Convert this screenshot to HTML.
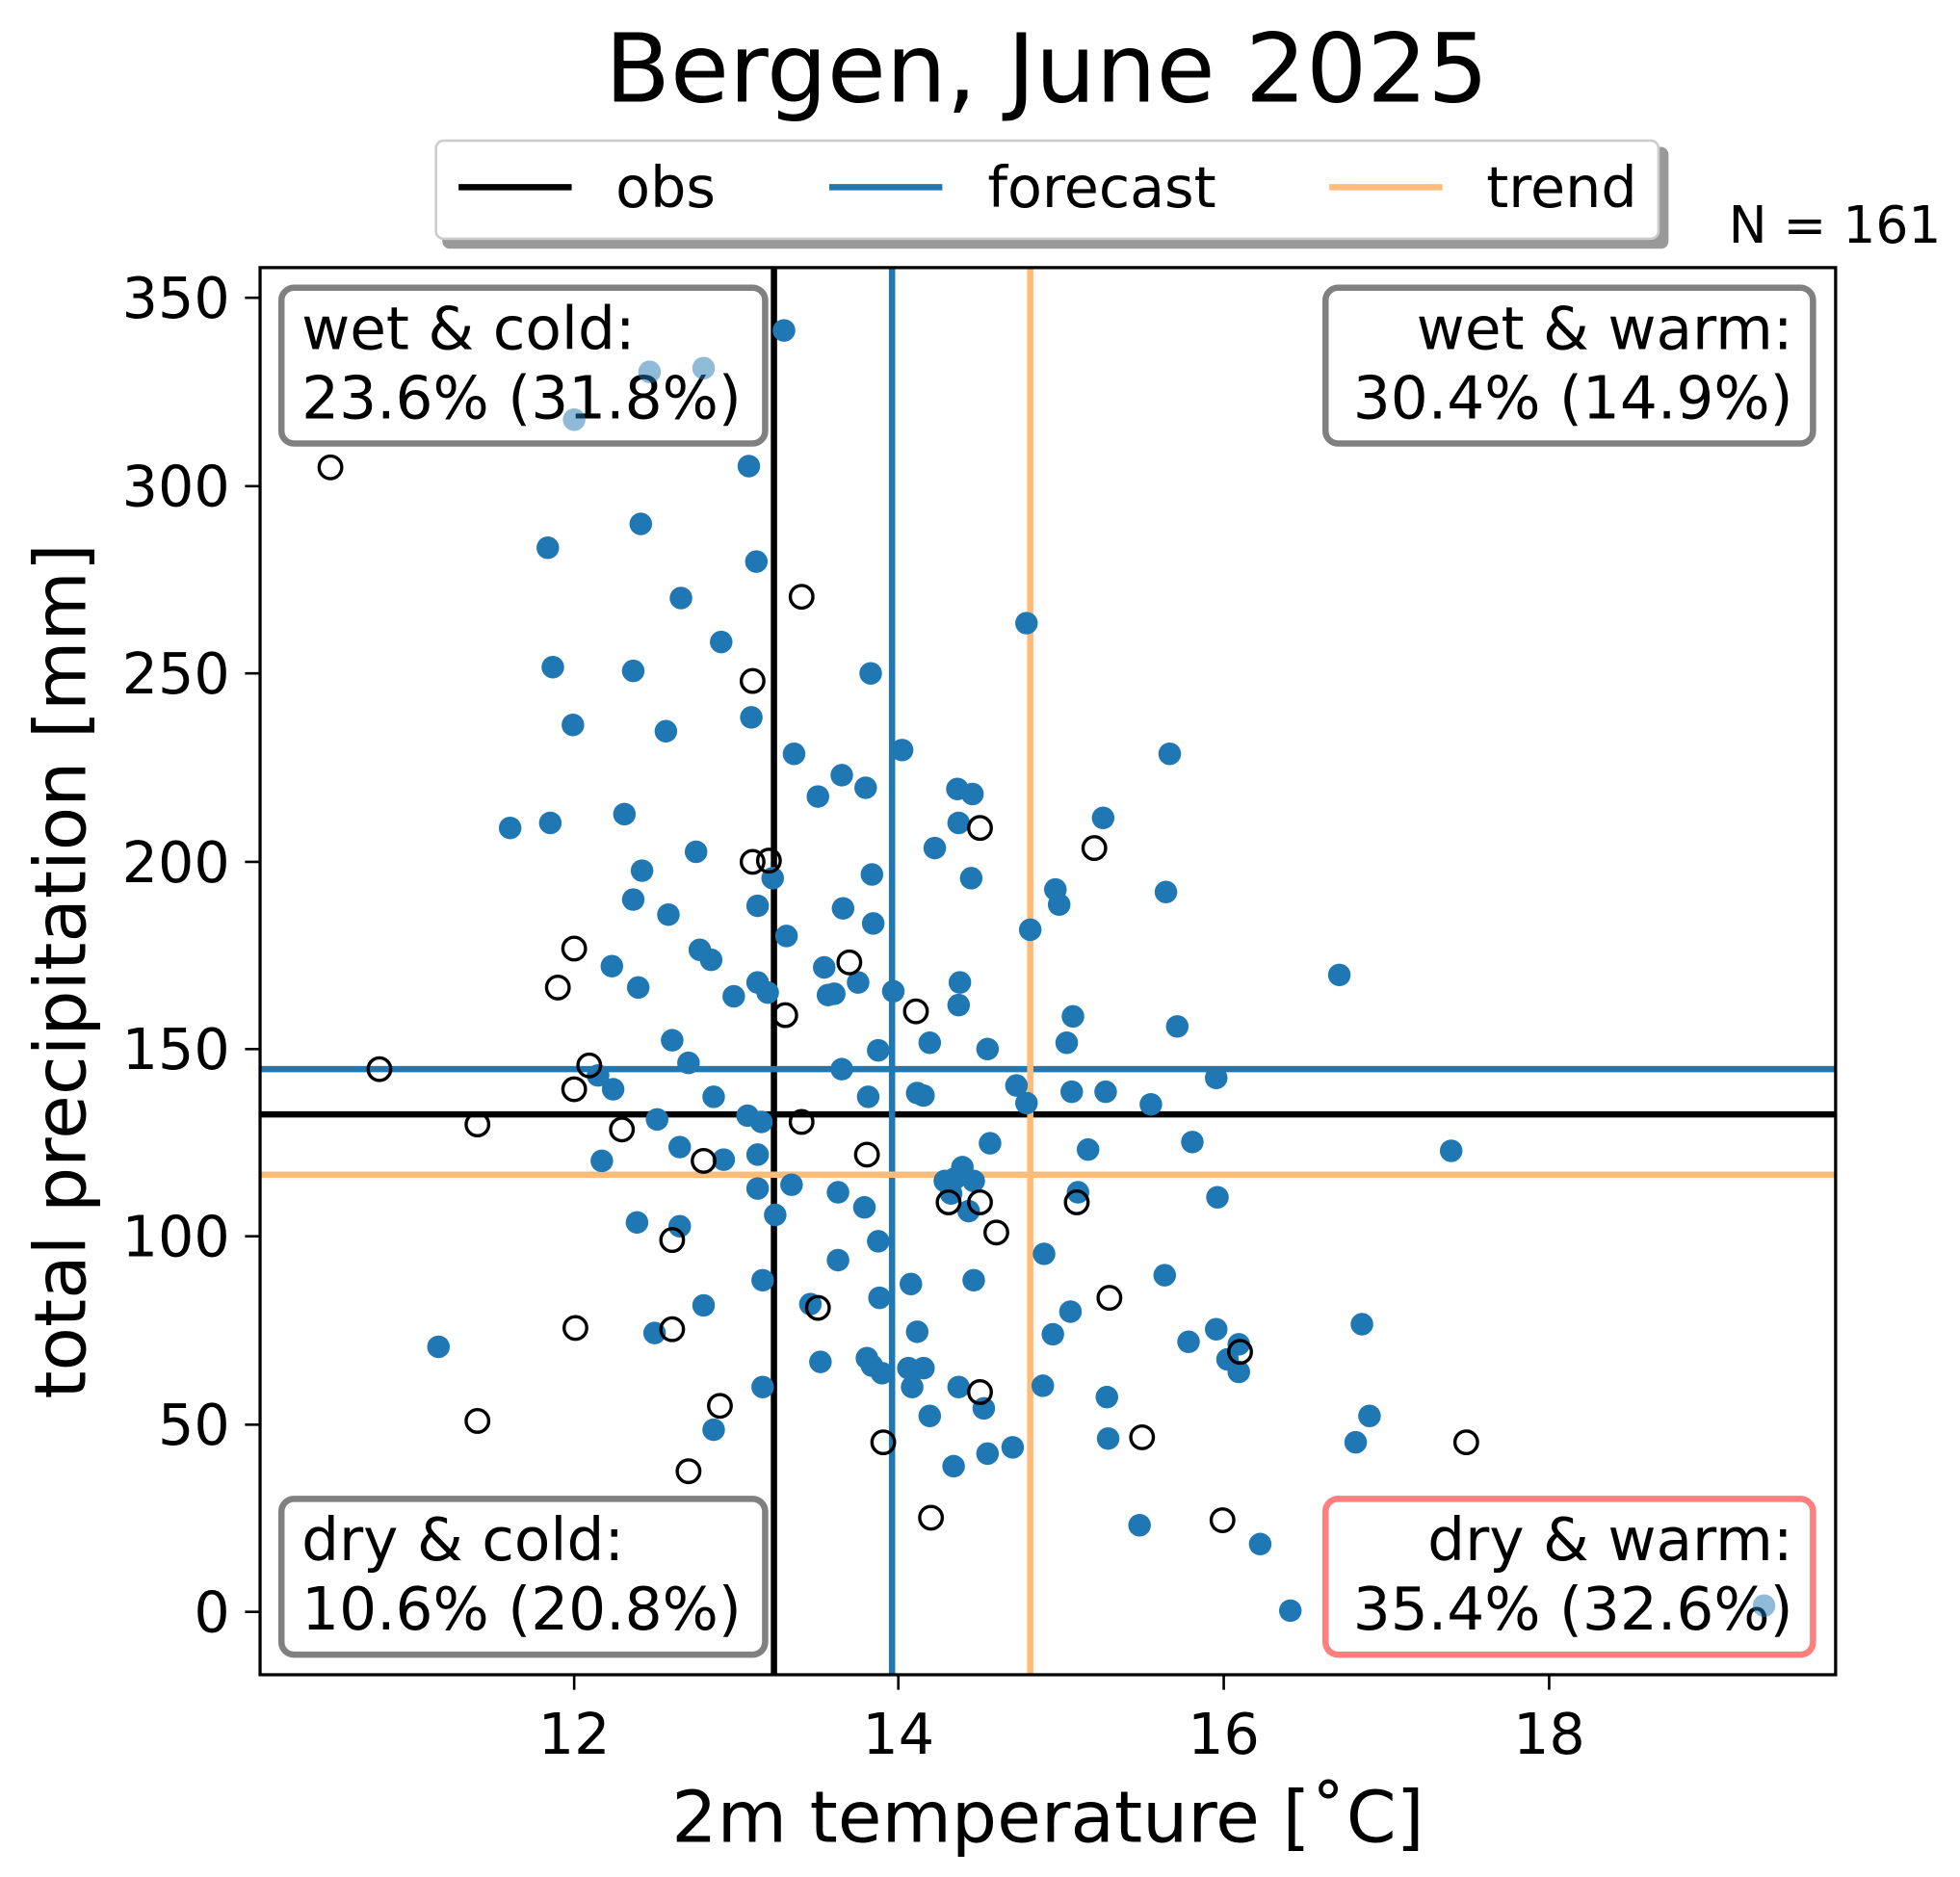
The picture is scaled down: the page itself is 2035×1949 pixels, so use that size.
<!DOCTYPE html>
<html><head><meta charset="utf-8"><style>html,body{margin:0;padding:0;background:#fff}svg{display:block}</style></head>
<body>
<svg width="2035" height="1949" viewBox="0 0 1560 1494" preserveAspectRatio="none" xmlns="http://www.w3.org/2000/svg" font-family="'DejaVu Sans','Liberation Sans',sans-serif">
<rect width="1560" height="1494" fill="#fff"/>
<text x="833" y="81" font-size="76" text-anchor="middle">Bergen, June 2025</text>
<!-- legend -->
<rect x="352" y="117" width="976" height="81" rx="6" fill="#999"/>
<rect x="347" y="112" width="973" height="78" rx="6" fill="#fff" stroke="#ccc" stroke-width="2"/>
<line x1="365" y1="149" x2="455" y2="149" stroke="#000" stroke-width="5"/>
<text x="490" y="165" font-size="45">obs</text>
<line x1="660" y1="149" x2="750" y2="149" stroke="#1f77b4" stroke-width="5"/>
<text x="786" y="165" font-size="45">forecast</text>
<line x1="1058" y1="149" x2="1148" y2="149" stroke="#ffbb78" stroke-width="5"/>
<text x="1183" y="165" font-size="45">trend</text>
<text x="1545" y="193" font-size="41" text-anchor="end">N = 161</text>
<!-- reference lines -->
<g stroke-width="5">
<line x1="616" y1="213" x2="616" y2="1333" stroke="#000"/>
<line x1="207" y1="887" x2="1461" y2="887" stroke="#000"/>
<line x1="710" y1="213" x2="710" y2="1333" stroke="#1f77b4"/>
<line x1="207" y1="851" x2="1461" y2="851" stroke="#1f77b4"/>
<line x1="820" y1="213" x2="820" y2="1333" stroke="#ffbb78"/>
<line x1="207" y1="935" x2="1461" y2="935" stroke="#ffbb78"/>
</g>
<!-- blue points -->
<g fill="#1f77b4">
<circle cx="624" cy="263" r="9"/><circle cx="596" cy="371" r="9"/><circle cx="510" cy="417" r="9"/><circle cx="436" cy="436" r="9"/><circle cx="602" cy="447" r="9"/><circle cx="542" cy="476" r="9"/><circle cx="574" cy="511" r="9"/><circle cx="440" cy="531" r="9"/><circle cx="504" cy="534" r="9"/><circle cx="693" cy="536" r="9"/><circle cx="817" cy="496" r="9"/><circle cx="598" cy="571" r="9"/><circle cx="456" cy="577" r="9"/><circle cx="530" cy="582" r="9"/><circle cx="632" cy="600" r="9"/><circle cx="718" cy="597" r="9"/><circle cx="931" cy="600" r="9"/><circle cx="670" cy="617" r="9"/><circle cx="651" cy="634" r="9"/><circle cx="689" cy="627" r="9"/><circle cx="762" cy="628" r="9"/><circle cx="774" cy="632" r="9"/><circle cx="406" cy="659" r="9"/><circle cx="438" cy="655" r="9"/><circle cx="497" cy="648" r="9"/><circle cx="744" cy="675" r="9"/><circle cx="763" cy="655" r="9"/><circle cx="878" cy="651" r="9"/><circle cx="554" cy="678" r="9"/><circle cx="511" cy="693" r="9"/><circle cx="694" cy="696" r="9"/><circle cx="773" cy="699" r="9"/><circle cx="840" cy="708" r="9"/><circle cx="928" cy="710" r="9"/><circle cx="615" cy="699" r="9"/><circle cx="603" cy="721" r="9"/><circle cx="504" cy="716" r="9"/><circle cx="532" cy="728" r="9"/><circle cx="671" cy="723" r="9"/><circle cx="843" cy="720" r="9"/><circle cx="820" cy="740" r="9"/><circle cx="626" cy="745" r="9"/><circle cx="557" cy="756" r="9"/><circle cx="566" cy="764" r="9"/><circle cx="487" cy="769" r="9"/><circle cx="695" cy="735" r="9"/><circle cx="656" cy="770" r="9"/><circle cx="683" cy="782" r="9"/><circle cx="764" cy="782" r="9"/><circle cx="508" cy="786" r="9"/><circle cx="603" cy="782" r="9"/><circle cx="611" cy="790" r="9"/><circle cx="664" cy="791" r="9"/><circle cx="584" cy="793" r="9"/><circle cx="659" cy="792" r="9"/><circle cx="711" cy="789" r="9"/><circle cx="854" cy="809" r="9"/><circle cx="937" cy="817" r="9"/><circle cx="763" cy="800" r="9"/><circle cx="740" cy="830" r="9"/><circle cx="849" cy="830" r="9"/><circle cx="786" cy="835" r="9"/><circle cx="535" cy="828" r="9"/><circle cx="548" cy="846" r="9"/><circle cx="699" cy="836" r="9"/><circle cx="670" cy="851" r="9"/><circle cx="476" cy="856" r="9"/><circle cx="968" cy="858" r="9"/><circle cx="809" cy="864" r="9"/><circle cx="817" cy="878" r="9"/><circle cx="853" cy="869" r="9"/><circle cx="880" cy="869" r="9"/><circle cx="730" cy="870" r="9"/><circle cx="735" cy="872" r="9"/><circle cx="691" cy="873" r="9"/><circle cx="568" cy="873" r="9"/><circle cx="488" cy="867" r="9"/><circle cx="523" cy="891" r="9"/><circle cx="595" cy="888" r="9"/><circle cx="606" cy="893" r="9"/><circle cx="916" cy="879" r="9"/><circle cx="949" cy="909" r="9"/><circle cx="788" cy="910" r="9"/><circle cx="866" cy="915" r="9"/><circle cx="1155" cy="916" r="9"/><circle cx="541" cy="913" r="9"/><circle cx="479" cy="924" r="9"/><circle cx="576" cy="923" r="9"/><circle cx="603" cy="919" r="9"/><circle cx="766" cy="929" r="9"/><circle cx="760" cy="938" r="9"/><circle cx="775" cy="940" r="9"/><circle cx="752" cy="940" r="9"/><circle cx="630" cy="943" r="9"/><circle cx="757" cy="950" r="9"/><circle cx="603" cy="946" r="9"/><circle cx="858" cy="949" r="9"/><circle cx="667" cy="949" r="9"/><circle cx="969" cy="953" r="9"/><circle cx="688" cy="961" r="9"/><circle cx="771" cy="964" r="9"/><circle cx="617" cy="967" r="9"/><circle cx="507" cy="973" r="9"/><circle cx="541" cy="976" r="9"/><circle cx="699" cy="988" r="9"/><circle cx="831" cy="998" r="9"/><circle cx="667" cy="1003" r="9"/><circle cx="607" cy="1019" r="9"/><circle cx="725" cy="1022" r="9"/><circle cx="775" cy="1019" r="9"/><circle cx="927" cy="1015" r="9"/><circle cx="700" cy="1033" r="9"/><circle cx="560" cy="1039" r="9"/><circle cx="645" cy="1038" r="9"/><circle cx="852" cy="1044" r="9"/><circle cx="1084" cy="1054" r="9"/><circle cx="1066" cy="776" r="9"/><circle cx="521" cy="1061" r="9"/><circle cx="730" cy="1060" r="9"/><circle cx="838" cy="1062" r="9"/><circle cx="349" cy="1072" r="9"/><circle cx="946" cy="1068" r="9"/><circle cx="968" cy="1058" r="9"/><circle cx="986" cy="1070" r="9"/><circle cx="977" cy="1082" r="9"/><circle cx="986" cy="1092" r="9"/><circle cx="653" cy="1084" r="9"/><circle cx="690" cy="1081" r="9"/><circle cx="694" cy="1087" r="9"/><circle cx="702" cy="1093" r="9"/><circle cx="723" cy="1089" r="9"/><circle cx="735" cy="1089" r="9"/><circle cx="607" cy="1104" r="9"/><circle cx="726" cy="1104" r="9"/><circle cx="763" cy="1104" r="9"/><circle cx="830" cy="1103" r="9"/><circle cx="881" cy="1112" r="9"/><circle cx="783" cy="1121" r="9"/><circle cx="740" cy="1127" r="9"/><circle cx="568" cy="1138" r="9"/><circle cx="882" cy="1145" r="9"/><circle cx="806" cy="1152" r="9"/><circle cx="786" cy="1157" r="9"/><circle cx="759" cy="1167" r="9"/><circle cx="1079" cy="1148" r="9"/><circle cx="1090" cy="1127" r="9"/><circle cx="907" cy="1214" r="9"/><circle cx="1003" cy="1229" r="9"/><circle cx="1027" cy="1282" r="9"/>
</g>
<!-- hollow obs -->
<g fill="none" stroke="#000" stroke-width="2.6">
<circle cx="263" cy="372" r="9"/><circle cx="638" cy="475" r="9"/><circle cx="599" cy="542" r="9"/><circle cx="780" cy="659" r="9"/><circle cx="871" cy="675" r="9"/><circle cx="599" cy="686" r="9"/><circle cx="612" cy="685" r="9"/><circle cx="457" cy="755" r="9"/><circle cx="676" cy="766" r="9"/><circle cx="444" cy="786" r="9"/><circle cx="729" cy="805" r="9"/><circle cx="625" cy="808" r="9"/><circle cx="302" cy="851" r="9"/><circle cx="469" cy="848" r="9"/><circle cx="457" cy="867" r="9"/><circle cx="380" cy="895" r="9"/><circle cx="495" cy="899" r="9"/><circle cx="638" cy="893" r="9"/><circle cx="560" cy="924" r="9"/><circle cx="690" cy="919" r="9"/><circle cx="755" cy="957" r="9"/><circle cx="780" cy="957" r="9"/><circle cx="857" cy="957" r="9"/><circle cx="793" cy="981" r="9"/><circle cx="535" cy="987" r="9"/><circle cx="651" cy="1041" r="9"/><circle cx="883" cy="1033" r="9"/><circle cx="458" cy="1057" r="9"/><circle cx="535" cy="1058" r="9"/><circle cx="987" cy="1076" r="9"/><circle cx="780" cy="1108" r="9"/><circle cx="573" cy="1119" r="9"/><circle cx="380" cy="1131" r="9"/><circle cx="703" cy="1148" r="9"/><circle cx="909" cy="1144" r="9"/><circle cx="1167" cy="1148" r="9"/><circle cx="548" cy="1171" r="9"/><circle cx="741" cy="1208" r="9"/><circle cx="973" cy="1210" r="9"/>
</g>
<!-- quadrant boxes -->
<g font-size="47">
<rect x="224" y="229" width="385" height="124" rx="10" fill="#fff" stroke="#808080" stroke-width="5"/>
<text x="240" y="278">wet &amp; cold:</text><text x="240" y="333">23.6% (31.8%)</text>
<rect x="1055" y="229" width="388" height="124" rx="10" fill="#fff" stroke="#808080" stroke-width="5"/>
<text x="1427" y="278" text-anchor="end">wet &amp; warm:</text><text x="1427" y="333" text-anchor="end">30.4% (14.9%)</text>
<rect x="224" y="1193" width="385" height="124" rx="10" fill="#fff" stroke="#808080" stroke-width="5"/>
<text x="240" y="1242">dry &amp; cold:</text><text x="240" y="1297">10.6% (20.8%)</text>
<rect x="1055" y="1193" width="388" height="124" rx="10" fill="#fff" stroke="#ff7f7f" stroke-width="5"/>
<text x="1427" y="1242" text-anchor="end">dry &amp; warm:</text><text x="1427" y="1297" text-anchor="end">35.4% (32.6%)</text>
</g>
<g fill="#1f77b4" fill-opacity="0.5">
<circle cx="517" cy="296" r="9"/><circle cx="560" cy="293" r="9"/><circle cx="457" cy="334" r="9"/><circle cx="1404" cy="1278" r="9"/>
</g>
<!-- axes -->
<rect x="207" y="213" width="1254" height="1120" fill="none" stroke="#000" stroke-width="2.5"/>
<g stroke="#000" stroke-width="2">
<line x1="457" y1="1333" x2="457" y2="1345"/><line x1="715" y1="1333" x2="715" y2="1345"/><line x1="974" y1="1333" x2="974" y2="1345"/><line x1="1233" y1="1333" x2="1233" y2="1345"/>
<line x1="195" y1="1283" x2="207" y2="1283"/><line x1="195" y1="1134" x2="207" y2="1134"/><line x1="195" y1="984" x2="207" y2="984"/><line x1="195" y1="835" x2="207" y2="835"/><line x1="195" y1="686" x2="207" y2="686"/><line x1="195" y1="536" x2="207" y2="536"/><line x1="195" y1="387" x2="207" y2="387"/><line x1="195" y1="237" x2="207" y2="237"/>
</g>
<g font-size="45" text-anchor="middle">
<text x="457" y="1396">12</text><text x="715" y="1396">14</text><text x="974" y="1396">16</text><text x="1233" y="1396">18</text>
</g>
<g font-size="45" text-anchor="end">
<text x="183" y="1299">0</text><text x="183" y="1150">50</text><text x="183" y="1000">100</text><text x="183" y="851">150</text><text x="183" y="702">200</text><text x="183" y="552">250</text><text x="183" y="403">300</text><text x="183" y="253">350</text>
</g>
<text x="834" y="1466" font-size="57" text-anchor="middle">2m temperature [˚C]</text>
<text transform="translate(68,773) rotate(-90)" font-size="57" text-anchor="middle">total precipitation [mm]</text>
</svg>
</body></html>
